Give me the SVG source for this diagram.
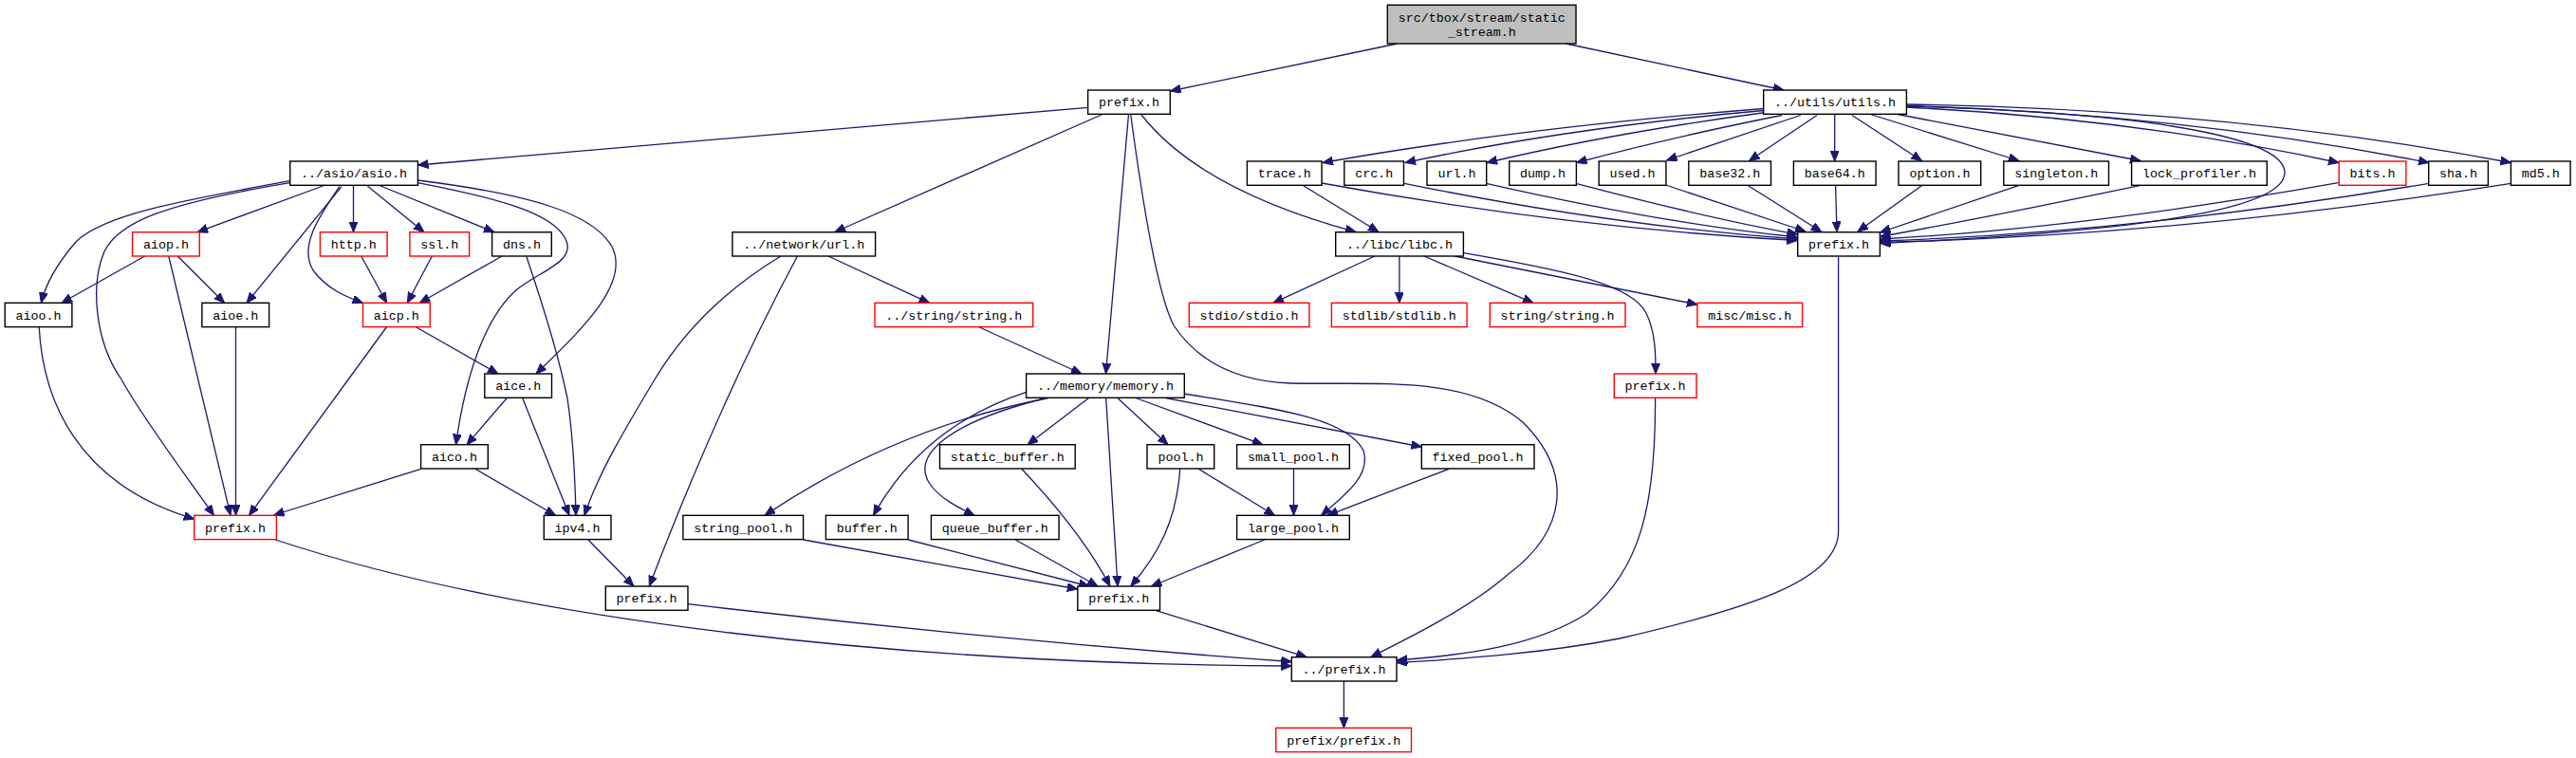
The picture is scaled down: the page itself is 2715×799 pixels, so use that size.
<svg xmlns="http://www.w3.org/2000/svg" width="2715" height="799" viewBox="0 0 2715 799">
<style>
rect{fill:#fff;stroke:#000;stroke-width:1.4}
.r rect{stroke:#f00}
.g rect{fill:#bfbfbf}
text{font-family:"Liberation Mono","DejaVu Sans Mono",monospace;font-size:13.33px;fill:#000;text-anchor:middle}
#edges path{fill:none;stroke:#191970;stroke-width:1.3;marker-end:url(#ah)}
</style>
<defs>
<marker id="ah" markerUnits="userSpaceOnUse" markerWidth="12" markerHeight="10" refX="11" refY="4.5" orient="auto"><path d="M0,0 L11,4.5 L0,9 z" fill="#191970" stroke="#191970" stroke-width="1"/></marker>
</defs>
<rect x="0" y="0" width="2715" height="799" style="fill:#fff;stroke:none"/>
<g id="edges">
<path d="M1472.7,46 L1233.5,96"/>
<path d="M1650.5,46 L1880,95"/>
<path d="M1146.6,113.3 L440.5,174"/>
<path d="M1162,120.5 L880,244.5"/>
<path d="M1189.5,120.5 L1165.5,393.8"/>
<path d="M1202.6,120.5 C1245,175 1320,215 1429,244.5"/>
<path d="M1191.7,120.5 C1205,220 1220,310 1237,343 C1265,385 1310,402 1360,404 C1450,406 1545,395 1605,445 C1660,500 1650,560 1590,605 C1550,640 1490,670 1445,692.5"/>
<path d="M1858.7,114.5 Q1600,135 1394,171.5"/>
<path d="M1858.7,116.5 Q1650,135 1481,171.5"/>
<path d="M1861,118.5 Q1700,140 1567,171.5"/>
<path d="M1878,121.5 Q1760,145 1661.5,171.5"/>
<path d="M1897.7,121.5 L1756.5,169"/>
<path d="M1915,121.5 L1843.5,169.5"/>
<path d="M1933.7,121 L1933.7,170"/>
<path d="M1952,121.5 L2025.5,169.5"/>
<path d="M1971.4,120.5 L2128,169.5"/>
<path d="M2000,120.5 L2256,169.5"/>
<path d="M2009,113 Q2250,125 2465,171.5"/>
<path d="M2009,111.5 Q2300,120 2560,171.5"/>
<path d="M2009,110 Q2350,115 2646.4,171.5"/>
<path d="M2009,112 C2300,120 2408,150 2408,182 C2408,215 2300,242 1981.5,256.5"/>
<path d="M1373,195.3 L1453,244.5"/>
<path d="M1393,193 Q1650,240 1894.5,253.5"/>
<path d="M1480,193.3 Q1700,238 1894.5,252"/>
<path d="M1566.4,193.3 Q1750,235 1894.5,250"/>
<path d="M1661,193.3 Q1800,230 1894.5,247"/>
<path d="M1755.5,195 L1903,244"/>
<path d="M1841.4,195 L1920,244.5"/>
<path d="M1934.6,195.5 L1936,244.5"/>
<path d="M2025.7,195.5 L1958,244"/>
<path d="M2128,195.3 L1981.5,245"/>
<path d="M2256,195.3 Q2100,228 1981.5,249.5"/>
<path d="M2464.3,192.7 Q2200,240 1981.5,252"/>
<path d="M2559.7,193.3 Q2250,245 1981.5,254"/>
<path d="M2646.4,193.3 Q2300,248 1981.5,255.5"/>
<path d="M1449,270 L1342,319.3"/>
<path d="M1474.9,270 L1474.9,319.3"/>
<path d="M1501,270 L1616,319.3"/>
<path d="M1533.5,270 L1788.9,321"/>
<path d="M1542.6,266.7 C1650,285 1720,300 1735,330 C1745,350 1745,375 1745,394"/>
<path d="M305.7,190.7 C200,210 110,225 80,255 C60,278 48,300 43.4,319.3"/>
<path d="M305.7,192.7 C170,215 125,235 110,265 C95,300 100,360 128,400 C150,440 195,500 225.5,543.3"/>
<path d="M340.4,196 L208,244.7"/>
<path d="M360,196.7 L260,319.3"/>
<path d="M357.8,196.7 C335,230 315,260 330,285 C345,305 365,313 382.5,319.3"/>
<path d="M372.5,196 L372.5,244.7"/>
<path d="M387.2,196 L447,244.7"/>
<path d="M401.1,196 L521,244.7"/>
<path d="M440.2,192.7 C530,210 580,225 595,250 C610,275 570,285 545,305 C510,335 490,400 480.5,468.7"/>
<path d="M440.2,190 C560,205 625,225 645,260 C665,300 610,350 565,394"/>
<path d="M152.6,270 L65,319.3"/>
<path d="M187.3,270 L236.5,319.3"/>
<path d="M177.8,270 L243,543.3"/>
<path d="M380.7,270 L407.6,319.3"/>
<path d="M455.3,270 L429.3,319.3"/>
<path d="M529,270 L442.3,319.3"/>
<path d="M555,270.7 C575,330 590,380 598,420 C604,460 606,500 607,543.3"/>
<path d="M41.2,344.5 C45,420 80,510 204.7,547"/>
<path d="M248.5,344.5 L248.5,543.3"/>
<path d="M407.6,344.5 L262.5,543.3"/>
<path d="M438,344.5 L525,394"/>
<path d="M534.3,419.5 L492,468.7"/>
<path d="M550.7,419.5 L600,543.3"/>
<path d="M443.6,494.3 L288.5,543"/>
<path d="M500.9,494.3 L585.5,543.3"/>
<path d="M620,569 L668,618"/>
<path d="M823,270 C765,305 720,350 690,400 C660,450 630,500 616,543.3"/>
<path d="M840.4,270 Q760,420 684.3,618"/>
<path d="M873,270 L979.5,319.3"/>
<path d="M1031.3,344.5 L1140,394"/>
<path d="M1147.5,419.5 L1083,468.7"/>
<path d="M1177.8,419.5 L1231,468.7"/>
<path d="M1197,419.5 L1331,468.7"/>
<path d="M1228.6,419.5 L1498.3,471"/>
<path d="M1248,415 C1340,430 1420,440 1437,475 C1445,500 1420,520 1392.5,543.3"/>
<path d="M1105,419.5 C1000,440 900,480 806,543.3"/>
<path d="M1081.6,413.3 C1000,440 950,490 920.5,543.3"/>
<path d="M1102.8,419.5 C1000,445 960,480 980,510 C990,525 1010,535 1027,543.3"/>
<path d="M1165.7,419.5 L1178,618"/>
<path d="M1076.8,494.3 C1120,540 1150,580 1170,618"/>
<path d="M1243.7,494.3 C1240,550 1220,585 1191.7,618"/>
<path d="M1263.3,494.3 L1343.5,543.3"/>
<path d="M1363.5,494.3 L1363.5,543.3"/>
<path d="M1527,494.3 L1399,543.3"/>
<path d="M847,569 L1135.8,621"/>
<path d="M957.5,569 L1148,618"/>
<path d="M1070.3,569 L1157,618"/>
<path d="M1332.6,569 L1213.4,618"/>
<path d="M725.1,636.7 Q1050,675 1361.3,697.5"/>
<path d="M290.5,569 C550,655 950,700 1361.3,702"/>
<path d="M1217.7,643.3 L1377.3,692.7"/>
<path d="M1937.6,269.7 L1937.6,560 C1937.6,610 1850,640 1707,673 C1630,688 1550,694 1472.3,698.5"/>
<path d="M1744.6,419.5 C1745,530 1730,600 1672,647 C1620,680 1550,690 1472.3,696"/>
<path d="M1416.4,718 L1416.4,767.3"/>
</g>
<g id="n_root" class="g"><rect x="1462.3" y="5.3" width="198.7" height="40.7"/><text x="1561.7" y="22.8">src/tbox/stream/static</text><text x="1561.7" y="37.8">_stream.h</text></g>
<g id="n_prefix_top"><rect x="1146.6" y="95" width="86.7" height="25.3"/><text x="1190" y="112.3">prefix.h</text></g>
<g id="n_utils"><rect x="1858.7" y="95" width="150.7" height="25.3"/><text x="1934" y="112.3">../utils/utils.h</text></g>
<g id="n_asio"><rect x="305.7" y="170" width="134.7" height="25.3"/><text x="373" y="187.3">../asio/asio.h</text></g>
<g id="n_trace"><rect x="1314.4" y="170" width="78.7" height="25.3"/><text x="1353.8" y="187.3">trace.h</text></g>
<g id="n_crc"><rect x="1416.8" y="170" width="62.7" height="25.3"/><text x="1448.2" y="187.3">crc.h</text></g>
<g id="n_url_u"><rect x="1504" y="170" width="62.7" height="25.3"/><text x="1535.4" y="187.3">url.h</text></g>
<g id="n_dump"><rect x="1590.7" y="170" width="70.7" height="25.3"/><text x="1626" y="187.3">dump.h</text></g>
<g id="n_used"><rect x="1685.2" y="170" width="70.7" height="25.3"/><text x="1720.5" y="187.3">used.h</text></g>
<g id="n_base32"><rect x="1779.8" y="170" width="86.7" height="25.3"/><text x="1823.2" y="187.3">base32.h</text></g>
<g id="n_base64"><rect x="1890.4" y="170" width="86.7" height="25.3"/><text x="1933.8" y="187.3">base64.h</text></g>
<g id="n_option"><rect x="2001" y="170" width="86.7" height="25.3"/><text x="2044.4" y="187.3">option.h</text></g>
<g id="n_singleton"><rect x="2111.8" y="170" width="110.7" height="25.3"/><text x="2167.2" y="187.3">singleton.h</text></g>
<g id="n_lock_profiler"><rect x="2246.6" y="170" width="142.7" height="25.3"/><text x="2318" y="187.3">lock_profiler.h</text></g>
<g id="n_bits" class="r"><rect x="2465.2" y="170" width="70.7" height="25.3"/><text x="2500.6" y="187.3">bits.h</text></g>
<g id="n_sha"><rect x="2559.7" y="170" width="62.7" height="25.3"/><text x="2591" y="187.3">sha.h</text></g>
<g id="n_md5"><rect x="2646.4" y="170" width="62.7" height="25.3"/><text x="2677.8" y="187.3">md5.h</text></g>
<g id="n_aiop" class="r"><rect x="139.6" y="244.7" width="70.7" height="25.3"/><text x="175" y="262">aiop.h</text></g>
<g id="n_http" class="r"><rect x="337.4" y="244.7" width="70.7" height="25.3"/><text x="372.8" y="262">http.h</text></g>
<g id="n_ssl" class="r"><rect x="431.9" y="244.7" width="62.7" height="25.3"/><text x="463.2" y="262">ssl.h</text></g>
<g id="n_dns"><rect x="518.6" y="244.7" width="62.7" height="25.3"/><text x="550" y="262">dns.h</text></g>
<g id="n_net_url"><rect x="771.9" y="244.7" width="150.7" height="25.3"/><text x="847.3" y="262">../network/url.h</text></g>
<g id="n_libc"><rect x="1407.7" y="244.7" width="134.7" height="25.3"/><text x="1475" y="262">../libc/libc.h</text></g>
<g id="n_prefix_u"><rect x="1894.7" y="244.7" width="86.7" height="25.3"/><text x="1938" y="262">prefix.h</text></g>
<g id="n_aioo"><rect x="5.2" y="319.3" width="70.7" height="25.3"/><text x="40.6" y="336.6">aioo.h</text></g>
<g id="n_aioe"><rect x="212.9" y="319.3" width="70.7" height="25.3"/><text x="248.2" y="336.6">aioe.h</text></g>
<g id="n_aicp" class="r"><rect x="382.5" y="319.3" width="70.7" height="25.3"/><text x="417.8" y="336.6">aicp.h</text></g>
<g id="n_str_string" class="r"><rect x="922" y="319.3" width="166.7" height="25.3"/><text x="1005.3" y="336.6">../string/string.h</text></g>
<g id="n_stdio" class="r"><rect x="1253.3" y="319.3" width="126.7" height="25.3"/><text x="1316.6" y="336.6">stdio/stdio.h</text></g>
<g id="n_stdlib" class="r"><rect x="1403.4" y="319.3" width="142.7" height="25.3"/><text x="1474.8" y="336.6">stdlib/stdlib.h</text></g>
<g id="n_string_libc" class="r"><rect x="1570.3" y="319.3" width="142.7" height="25.3"/><text x="1641.6" y="336.6">string/string.h</text></g>
<g id="n_misc" class="r"><rect x="1788.9" y="319.3" width="110.7" height="25.3"/><text x="1844.2" y="336.6">misc/misc.h</text></g>
<g id="n_aice"><rect x="510.8" y="394" width="70.7" height="25.3"/><text x="546.2" y="411.3">aice.h</text></g>
<g id="n_memory"><rect x="1081.6" y="394" width="166.7" height="25.3"/><text x="1165" y="411.3">../memory/memory.h</text></g>
<g id="n_prefix_libc" class="r"><rect x="1701.3" y="394" width="86.7" height="25.3"/><text x="1744.6" y="411.3">prefix.h</text></g>
<g id="n_aico"><rect x="443.6" y="468.7" width="70.7" height="25.3"/><text x="479" y="486">aico.h</text></g>
<g id="n_static_buffer"><rect x="990.5" y="468.7" width="142.7" height="25.3"/><text x="1061.8" y="486">static_buffer.h</text></g>
<g id="n_pool"><rect x="1209" y="468.7" width="70.7" height="25.3"/><text x="1244.4" y="486">pool.h</text></g>
<g id="n_small_pool"><rect x="1303.6" y="468.7" width="118.7" height="25.3"/><text x="1363" y="486">small_pool.h</text></g>
<g id="n_fixed_pool"><rect x="1498.3" y="468.7" width="118.7" height="25.3"/><text x="1557.6" y="486">fixed_pool.h</text></g>
<g id="n_prefix_asio" class="r"><rect x="204.7" y="543.3" width="86.7" height="25.3"/><text x="248" y="560.6">prefix.h</text></g>
<g id="n_ipv4"><rect x="573.3" y="543.3" width="70.7" height="25.3"/><text x="608.6" y="560.6">ipv4.h</text></g>
<g id="n_string_pool"><rect x="719.9" y="543.3" width="126.7" height="25.3"/><text x="783.2" y="560.6">string_pool.h</text></g>
<g id="n_buffer"><rect x="870.4" y="543.3" width="86.7" height="25.3"/><text x="913.8" y="560.6">buffer.h</text></g>
<g id="n_queue_buffer"><rect x="981.4" y="543.3" width="134.7" height="25.3"/><text x="1048.8" y="560.6">queue_buffer.h</text></g>
<g id="n_large_pool"><rect x="1303.6" y="543.3" width="118.7" height="25.3"/><text x="1363" y="560.6">large_pool.h</text></g>
<g id="n_prefix_net"><rect x="638.3" y="618" width="86.7" height="25.3"/><text x="681.6" y="635.3">prefix.h</text></g>
<g id="n_prefix_mem"><rect x="1135.8" y="618" width="86.7" height="25.3"/><text x="1179.2" y="635.3">prefix.h</text></g>
<g id="n_dotprefix"><rect x="1361.3" y="692.7" width="110.7" height="25.3"/><text x="1416.6" y="710">../prefix.h</text></g>
<g id="n_prefix_prefix" class="r"><rect x="1344.8" y="767.3" width="142.7" height="25.3"/><text x="1416.2" y="784.6">prefix/prefix.h</text></g>
</svg>
